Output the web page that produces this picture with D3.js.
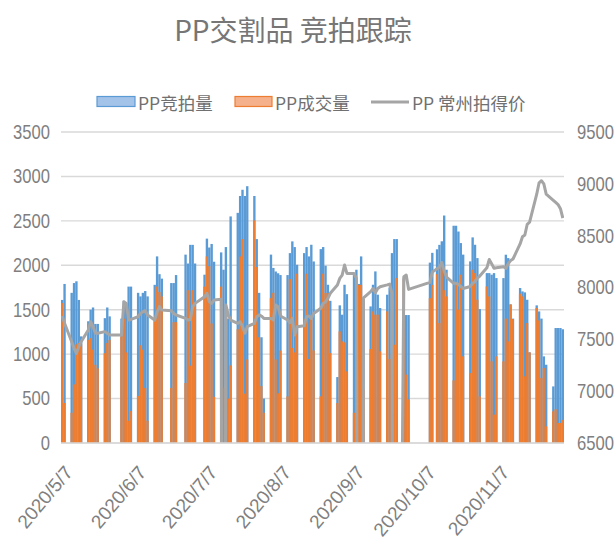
<!DOCTYPE html>
<html>
<head>
<meta charset="utf-8">
<script src="https://cdn.jsdelivr.net/npm/d3@7"></script>
<style>
body{margin:0;background:#fff;}
svg{display:block;}
.num{font-family:"Liberation Sans",Arial,sans-serif;fill:#7f7f7f;}
.cjk{font-family:"Noto Sans CJK SC",sans-serif;}
</style>
</head>
<body>
<div id="chart"></div>
<script>
// trading days, 2020
const dates=[
`5/7`,`5/8`,`5/11`,`5/12`,`5/13`,`5/14`,`5/15`,`5/18`,`5/19`,`5/20`,`5/21`,`5/22`,`5/25`,`5/26`,`5/27`,
`6/1`,`6/2`,`6/3`,`6/4`,`6/5`,`6/8`,`6/9`,`6/10`,`6/11`,`6/12`,`6/15`,`6/16`,`6/17`,`6/18`,`6/22`,`6/23`,`6/24`,
`6/28`,`6/29`,`6/30`,`7/1`,`7/2`,`7/6`,`7/7`,`7/8`,`7/9`,`7/10`,`7/13`,`7/14`,`7/15`,`7/16`,`7/17`,
`7/20`,`7/21`,`7/22`,`7/23`,`7/24`,`7/27`,`7/28`,`7/29`,`7/30`,`7/31`,
`8/3`,`8/4`,`8/5`,`8/6`,`8/7`,`8/10`,`8/11`,`8/12`,`8/13`,`8/14`,`8/17`,`8/18`,`8/19`,`8/20`,`8/21`,
`8/24`,`8/25`,`8/26`,`8/27`,`8/28`,`8/31`,`9/1`,`9/2`,`9/3`,`9/4`,`9/7`,`9/8`,`9/9`,`9/10`,`9/11`,
`9/14`,`9/15`,`9/16`,`9/17`,`9/18`,`9/21`,`9/22`,`9/23`,`9/24`,`9/25`,`9/28`,`9/29`,`9/30`,
`10/9`,`10/10`,`10/12`,`10/13`,`10/14`,`10/15`,`10/16`,`10/19`,`10/20`,`10/21`,`10/22`,`10/23`,
`10/26`,`10/27`,`10/28`,`10/29`,`10/30`,`11/2`,`11/3`,`11/4`,`11/5`,`11/6`,
`11/9`,`11/10`,`11/11`,`11/12`,`11/13`,`11/16`,`11/17`,`11/18`,`11/19`,`11/20`,
`11/23`,`11/24`,`11/25`,`11/26`,`11/27`,`11/30`,`12/1`,`12/2`,`12/3`,`12/4`];

// PP竞拍量
const bidVol=[
1610,1790,1690,1800,1820,1610,1200,1370,1500,1525,1340,1340,1405,1525,1425,
1400,1600,1570,1760,1760,1690,1650,1690,1710,1650,1780,2100,1900,1850,1800,1800,1890,
2120,2020,2230,2230,2020,1894,2300,2200,2240,2040,2145,1950,2205,1400,2550,
2590,2780,2850,2780,2890,2780,2295,1690,1190,500,
2120,1970,1930,1910,1890,1890,2137,2269,2205,2006,2137,2205,2100,2231,2043,
2182,2205,1995,1781,1600,742,1549,1444,1781,1675,1890,1950,1790,2100,1550,
1537,1781,1931,1669,1519,1669,1750,2137,2295,2295,1860,1440,1440,
2030,2140,2180,2230,2270,2560,1950,2445,2445,2380,2250,2120,
2044,2314,2231,2081,1507,1912,1912,1894,1912,1856,
1856,2119,2081,1560,1400,1744,1706,1695,1612,1020,
1549,1481,1400,975,881,637,1294,1294,1294,1280];

// PP成交量
const dealVol=[
1575,450,340,660,1110,1125,1120,1160,1180,1050,880,840,1010,1125,1160,
1200,1400,1020,250,360,530,1100,1050,620,250,1370,1760,1700,1650,620,1360,1360,
675,1720,870,1720,1560,1760,2100,1990,1345,520,1760,620,506,500,873,
1280,2100,2295,555,940,2505,1980,1190,640,340,
1630,1690,940,560,1040,525,1845,1069,1020,1905,1395,1905,945,1425,1042,
525,1905,1688,1688,1012,450,1256,1144,1132,806,340,1290,1780,1780,600,
1057,1481,1444,1444,1031,1481,945,1000,1106,1856,1845,770,490,
1630,1780,1900,1350,1990,1720,1650,705,1800,1500,1894,975,
787,1950,1912,1612,525,1762,1650,919,319,975,
919,1400,1144,1560,1395,1680,1650,750,1350,1020,
1519,1380,731,844,187,356,380,225,225,260];

// PP 常州拍得价 (0 = no price that day)
const price=[
7725,7655,7477,7413,7365,7429,7477,7590,7670,7622,7558,7558,7574,7558,7542,
7542,7863,7847,7686,7692,7718,7750,7765,7776,7735,7686,7765,7815,7783,7776,7750,7735,
7702,7686,7692,7815,7847,7911,7944,7863,7847,7879,7886,0,7830,7735,7686,
7654,7670,7622,7558,7622,7654,7718,7735,7725,7702,
7702,7686,7830,7815,7725,7686,7660,7702,7542,7622,7632,7718,7725,7702,7750,
7800,7847,7863,7895,7944,8024,8088,8120,8217,8136,8136,8088,0,0,7900,
7960,7990,7950,7990,8007,8025,8033,7944,0,0,8104,8120,7982,
8050,8150,8180,8200,8240,8160,8100,8040,8040,8030,8010,7990,
8010,8040,8060,8090,8110,8190,8270,8230,8185,8190,
8200,8185,8230,8260,8275,8420,8490,8506,8610,8630,
8900,9010,9030,9000,8900,8840,8820,8800,8760,8670];

const monthTicks=[`5/7`,`6/7`,`7/7`,`8/7`,`9/7`,`10/7`,`11/7`];
const volTicks=[0,500,1000,1500,2000,2500,3000,3500];
const priceTicks=[6500,7000,7500,8000,8500,9000,9500];
const seriesNames=[`PP竞拍量`,`PP成交量`,`PP 常州拍得价`];
const title=`PP交割品 竞拍跟踪`;

const colors={bid:`#5b9bd5`,deal:`#ed7d31`,price:`#a5a5a5`,grid:`#d9d9d9`};
const area={left:61,right:564,top:132,bottom:443};

const parse=d3.utcParse(`%Y/%m/%d`);
const toDate=s=>parse(`2020/${s}`);
const DAY=864e5;

let rows=dates.map((d,i)=>({date:toDate(d),bid:bidVol[i],deal:dealVol[i],price:price[i]}));

let svg=d3.select(`#chart`).append(`svg`)
    .attr(`width`,616)
    .attr(`height`,542);

let x=d3.scaleUtc()
    .domain([new Date(toDate(dates[0]).getTime()-DAY/2),new Date(toDate(dates[dates.length-1]).getTime()+DAY/2)])
    .range([area.left,area.right]);
let slot=x(toDate(`5/8`))-x(toDate(`5/7`));

let yL=d3.scaleLinear().domain([0,3500]).range([area.bottom,area.top]);
let yR=d3.scaleLinear().domain([6500,9500]).range([area.bottom,area.top]);

//title
svg.append(`text`)
    .attr(`class`,`cjk`)
    .attr(`x`,293)
    .attr(`y`,29)
    .attr(`text-anchor`,`middle`)
    .attr(`dominant-baseline`,`central`)
    .attr(`font-size`,28)
    .attr(`fill`,`#767676`)
    .text(title);

//gridlines
svg.append(`g`)
    .selectAll(`line`)
    .data(volTicks)
    .enter()
    .append(`line`)
    .attr(`x1`,area.left)
    .attr(`x2`,area.right)
    .attr(`y1`,d=>yL(d))
    .attr(`y2`,d=>yL(d))
    .attr(`stroke`,colors.grid)
    .attr(`stroke-width`,1.4);

//bars: bid behind, deal in front
svg.append(`g`)
    .selectAll(`rect`)
    .data(rows)
    .enter()
    .append(`rect`)
    .attr(`x`,d=>x(d.date)-slot/2)
    .attr(`width`,slot)
    .attr(`y`,d=>yL(d.bid))
    .attr(`height`,d=>area.bottom-yL(d.bid))
    .attr(`fill`,colors.bid);

svg.append(`g`)
    .selectAll(`rect`)
    .data(rows)
    .enter()
    .append(`rect`)
    .attr(`x`,d=>x(d.date)-slot/2)
    .attr(`width`,slot*0.92)
    .attr(`y`,d=>yL(d.deal))
    .attr(`height`,d=>area.bottom-yL(d.deal))
    .attr(`fill`,colors.deal);

//price line, clipped to the plot area
svg.append(`clipPath`)
    .attr(`id`,`plotclip`)
    .append(`rect`)
    .attr(`x`,area.left)
    .attr(`y`,area.top-10)
    .attr(`width`,area.right-area.left)
    .attr(`height`,area.bottom-area.top+10);

let valueline=d3.line()
    .x(d=>x(d.date))
    .y(d=>yR(d.price));

svg.append(`path`)
    .datum(rows)
    .attr(`clip-path`,`url(#plotclip)`)
    .attr(`d`,valueline)
    .attr(`fill`,`none`)
    .attr(`stroke`,colors.price)
    .attr(`stroke-width`,3)
    .attr(`stroke-linejoin`,`round`);

//axes
let leftAxis=svg.append(`g`)
    .attr(`transform`,`translate(50,0)`)
    .call(d3.axisLeft(yL).tickValues(volTicks).tickSize(0).tickPadding(0).tickFormat(d3.format(`d`)));
let rightAxis=svg.append(`g`)
    .attr(`transform`,`translate(577,0)`)
    .call(d3.axisRight(yR).tickValues(priceTicks).tickSize(0).tickPadding(0).tickFormat(d3.format(`d`)));
let bottomAxis=svg.append(`g`)
    .attr(`transform`,`translate(0,${area.bottom})`)
    .call(d3.axisBottom(x).tickValues(monthTicks.map(toDate)).tickSize(0)
        .tickFormat(d3.utcFormat(`%Y/%-m/%-d`)));

[leftAxis,rightAxis,bottomAxis].forEach(a=>{
    a.select(`.domain`).remove();
    a.selectAll(`text`)
        .attr(`class`,`num`)
        .attr(`fill`,null)
        .attr(`font-size`,20);
});
//narrow digits like the original
leftAxis.selectAll(`text`).attr(`transform`,`scale(0.83,1)`);
rightAxis.selectAll(`text`).attr(`transform`,`scale(0.83,1)`);
bottomAxis.selectAll(`text`)
    .attr(`font-size`,19)
    .attr(`x`,0)
    .attr(`y`,0)
    .attr(`dy`,null)
    .attr(`text-anchor`,`end`)
    .attr(`transform`,`translate(11,30) rotate(-50)`);

//bottom axis line
svg.append(`line`)
    .attr(`x1`,area.left)
    .attr(`x2`,area.right)
    .attr(`y1`,area.bottom)
    .attr(`y2`,area.bottom)
    .attr(`stroke`,colors.grid)
    .attr(`stroke-width`,1.4);

//legend
let legend=svg.append(`g`).attr(`class`,`cjk`).attr(`font-size`,17.5).attr(`fill`,`#707070`);
legend.append(`rect`).attr(`x`,97).attr(`y`,96.5).attr(`width`,38).attr(`height`,10)
    .attr(`fill`,`#a3c3e8`).attr(`stroke`,colors.bid).attr(`stroke-width`,1.2);
legend.append(`text`).attr(`x`,138).attr(`y`,102).attr(`dominant-baseline`,`central`).text(seriesNames[0]);
legend.append(`rect`).attr(`x`,235).attr(`y`,96.5).attr(`width`,37).attr(`height`,10)
    .attr(`fill`,`#f5b18c`).attr(`stroke`,colors.deal).attr(`stroke-width`,1.2);
legend.append(`text`).attr(`x`,275).attr(`y`,102).attr(`dominant-baseline`,`central`).text(seriesNames[1]);
legend.append(`line`).attr(`x1`,371).attr(`x2`,409).attr(`y1`,102).attr(`y2`,102)
    .attr(`stroke`,colors.price).attr(`stroke-width`,3);
legend.append(`text`).attr(`x`,412).attr(`y`,102).attr(`dominant-baseline`,`central`).text(seriesNames[2]);
</script>
</body>
</html>
